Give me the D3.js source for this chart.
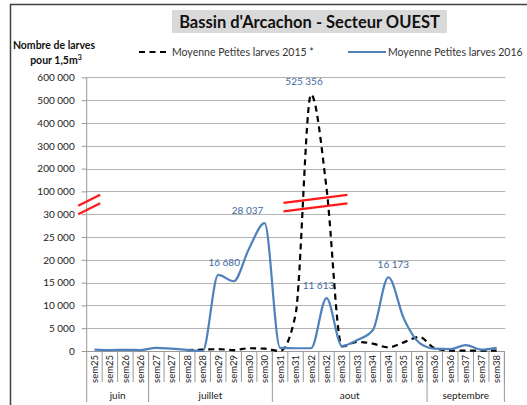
<!DOCTYPE html>
<html>
<head>
<meta charset="utf-8">
<script src="https://cdn.jsdelivr.net/npm/d3@7"></script>
<style>
  body { margin: 0; background: #fff; }
  text { font-family: Lato, "Open Sans", sans-serif; }
</style>
</head>
<body>
<svg id="chart"></svg>
<script>
// categories (two readings per week)
const weeks = ["sem25","sem25","sem26","sem26","sem27","sem27","sem28","sem28","sem29","sem29",
  "sem30","sem30","sem31","sem31","sem32","sem32","sem33","sem33","sem34","sem34",
  "sem35","sem35","sem36","sem36","sem37","sem37","sem38"];
const months = ["juin", "juillet", "aout", "septembre"];
const monthCounts = [4, 8, 10, 5];

// series
const larves2015 = [null,null,null,null,null,null,200,300,400,200,
  600,500,0,8000,525356,115000,1000,2000,1600,800,
  1900,3100,600,100,100,100,100];
const larves2016 = [300,200,250,200,700,500,250,0,16680,15300,
  22500,28037,700,600,600,11613,1100,2400,4600,16173,
  7100,1800,500,400,1300,300,700];

// y axis ticks (broken axis)
const yTicks = [0,5000,10000,15000,20000,25000,30000,100000,200000,300000,400000,500000,600000];

// labelled points: index, series, text, dx
const labels = [
  {i: 14, s: "2015", t: "525 356", dx: -7},
  {i: 11, s: "2016", t: "28 037", dx: -17},
  {i: 8, s: "2016", t: "16 680", dx: 6},
  {i: 15, s: "2016", t: "11 613", dx: -8},
  {i: 19, s: "2016", t: "16 173", dx: 5}
];

const W = 527, H = 405;
const svg = d3.select("#chart").attr("width", W).attr("height", H);

svg.append("rect").attr("width", W).attr("height", H).attr("fill", "#fff");

// outer frame
svg.append("path")
  .attr("d", "M10.5," + (H + 2) + "V4.5H" + (W + 2))
  .attr("fill", "none").attr("stroke", "#404040").attr("stroke-width", 1.5);

const left = 86.7, right = 504.4, y0 = 351;
const x = d3.scaleBand().domain(d3.range(weeks.length)).range([left, right]);
const y = d3.scaleLinear()
  .domain([0, 30000, 100000, 600000])
  .range([y0, 214.2, 191.4, 77.4]);

// title
svg.append("rect").attr("x", 172).attr("y", 10).attr("width", 275).attr("height", 23).attr("fill", "#d9d9d9");
svg.append("text").attr("x", 309.5).attr("y", 28).attr("text-anchor", "middle")
  .style("font-size", "16.5px").style("font-weight", "bold").attr("fill", "#111")
  .text("Bassin d'Arcachon - Secteur OUEST");

// y title
const yt = svg.append("text").attr("text-anchor", "middle").style("font-size", "10.5px")
  .style("font-weight", "bold").attr("fill", "#111");
yt.append("tspan").attr("x", 54).attr("y", 49).text("Nombre de larves");
yt.append("tspan").attr("x", 56).attr("y", 64).text("pour 1,5m");
yt.append("tspan").attr("dy", -4).style("font-size", "7px").text("3");

// legend
svg.append("line").attr("x1", 139).attr("x2", 168).attr("y1", 52).attr("y2", 52)
  .attr("stroke", "#000").attr("stroke-width", 2.2).attr("stroke-dasharray", "6,4.5");
svg.append("text").attr("x", 172).attr("y", 56).style("font-size", "10.5px").attr("fill", "#333")
  .text("Moyenne Petites larves 2015 *");
svg.append("line").attr("x1", 348).attr("x2", 386).attr("y1", 52).attr("y2", 52)
  .attr("stroke", "#4f81bd").attr("stroke-width", 2.2);
svg.append("text").attr("x", 388).attr("y", 56).style("font-size", "10.5px").attr("fill", "#333")
  .text("Moyenne Petites larves 2016");

// gridlines
svg.append("g").selectAll("line").data(yTicks.slice(1)).enter().append("line")
  .attr("x1", left).attr("x2", right + 1)
  .attr("y1", d => Math.round(y(d)) + 0.5).attr("y2", d => Math.round(y(d)) + 0.5)
  .attr("stroke", "#b3b3b3").attr("stroke-width", 1.2);

// y axis
const yAxis = d3.axisLeft(y).tickValues(yTicks).tickSize(5).tickPadding(7)
  .tickFormat(d => d3.format(",")(d).replace(/,/g, " "));
const gy = svg.append("g").attr("transform", "translate(" + left + ",0)").call(yAxis);
gy.select(".domain").remove();
gy.selectAll(".tick line").attr("stroke", "#999");
gy.selectAll(".tick text").style("font-size", "10px").attr("fill", "#222")
  .style("font-family", "Lato, sans-serif");
svg.append("line").attr("x1", left).attr("x2", left).attr("y1", y(600000)).attr("y2", 402)
  .attr("stroke", "#999");

// x axis
svg.append("line").attr("x1", left).attr("x2", right).attr("y1", y0 + 0.5).attr("y2", y0 + 0.5)
  .attr("stroke", "#999");
svg.append("g").selectAll("line").data(d3.range(1, weeks.length + 1)).enter().append("line")
  .attr("x1", d => x(d - 1) + x.bandwidth()).attr("x2", d => x(d - 1) + x.bandwidth())
  .attr("y1", y0).attr("y2", 382).attr("stroke", "#999");
svg.append("g").selectAll("text").data(weeks).enter().append("text")
  .attr("transform", (d, i) => "translate(" + (x(i) + x.bandwidth() / 2 + 3.5) + ",355) rotate(-90)")
  .attr("text-anchor", "end").style("font-size", "9.5px").attr("fill", "#222")
  .text(d => d);

// month groups
let start = 0;
const monthPos = monthCounts.map((c, k) => {
  const m = {name: months[k], a: start, b: start + c};
  start += c;
  return m;
});
svg.append("g").selectAll("line").data(monthPos).enter().append("line")
  .attr("x1", d => x(d.b - 1) + x.bandwidth()).attr("x2", d => x(d.b - 1) + x.bandwidth())
  .attr("y1", y0).attr("y2", 402).attr("stroke", "#999");
svg.append("g").selectAll("text").data(monthPos).enter().append("text")
  .attr("x", d => (x(d.a) + x(d.b - 1) + x.bandwidth()) / 2).attr("y", 399)
  .attr("text-anchor", "middle").style("font-size", "10px").attr("fill", "#222")
  .text(d => d.name);

// lines
const cx = i => x(i) + x.bandwidth() / 2;
const line = d3.line()
  .defined(d => d != null)
  .x((d, i) => cx(i))
  .y(d => y(d))
  .curve(d3.curveMonotoneX);

svg.append("path").datum(larves2015).attr("d", line)
  .attr("fill", "none").attr("stroke", "#000").attr("stroke-width", 2.2)
  .attr("stroke-dasharray", "6,4.5");
svg.append("path").datum(larves2016).attr("d", line)
  .attr("fill", "none").attr("stroke", "#4f81bd").attr("stroke-width", 2.2);

// data labels
svg.append("g").selectAll("text").data(labels).enter().append("text")
  .attr("x", d => cx(d.i) + d.dx)
  .attr("y", d => y(d.s === "2015" ? larves2015[d.i] : larves2016[d.i]) - 9)
  .attr("text-anchor", "middle").style("font-size", "10px").attr("fill", "#3f69a0")
  .text(d => d.t);

// axis break marks
const brk = (x1, yA, len, rise) => {
  [0, 1].forEach(k => {
    svg.append("line")
      .attr("x1", x1).attr("y1", yA + k * 8.5)
      .attr("x2", x1 + len).attr("y2", yA + k * 8.5 - rise)
      .attr("stroke", "#ff1a1a").attr("stroke-width", 2.3);
  });
};
const yMid = (y(30000) + y(100000)) / 2;
brk(left - 8.5, yMid + 3, 22, 11);
brk(cx(14) - 27.5, yMid + 0, 64, 8);
</script>
</body>
</html>
